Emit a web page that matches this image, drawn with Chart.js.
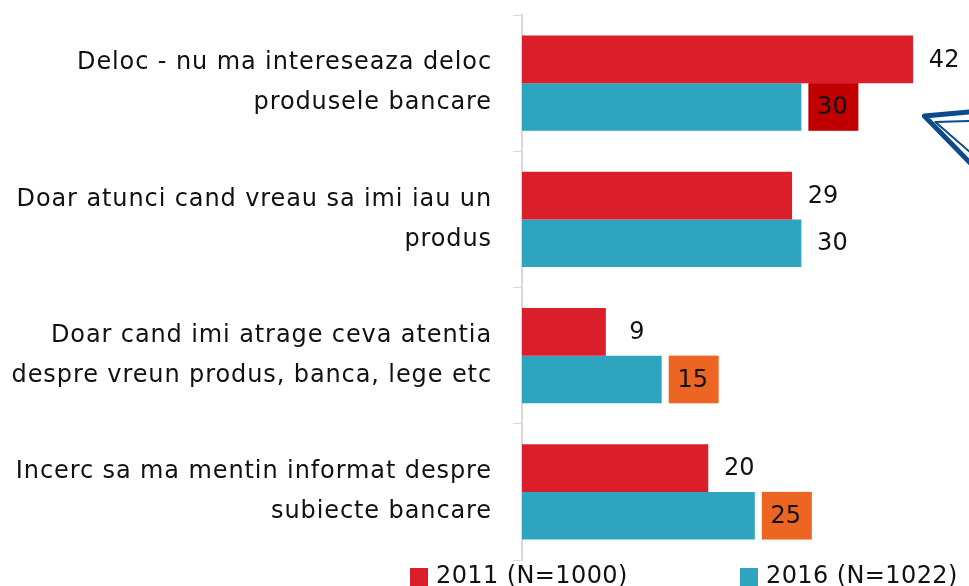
<!DOCTYPE html>
<html>
<head>
<meta charset="utf-8">
<script src="https://cdn.jsdelivr.net/npm/chart.js@4.4.1/dist/chart.umd.min.js"></script>
<style>
  html, body { margin: 0; padding: 0; background: #fff; }
  #wrap { width: 969px; height: 586px; }
</style>
</head>
<body>
<div id="wrap"><canvas id="grafica"></canvas></div>
<script>
const categories = [
  ['Deloc - nu ma intereseaza deloc', 'produsele bancare'],
  ['Doar atunci cand vreau sa imi iau un', 'produs'],
  ['Doar cand imi atrage ceva atentia', 'despre vreun produs, banca, lege etc'],
  ['Incerc sa ma mentin informat despre', 'subiecte bancare']
];
const values2011 = [42, 29, 9, 20];
const values2016 = [30, 30, 15, 25];
const seriesNames = ['2011 (N=1000)', '2016 (N=1022)'];
// highlight boxes behind some 2016 value labels (null = plain label)
const boxes2016 = ['#c00000', null, '#ec6523', '#ec6523'];

const FONT = 'DejaVu Sans';
const red = '#db1f2a';
const teal = '#2ea4bf';

const spacing = {
  id: 'spacing',
  beforeDraw(chart) { chart.ctx.letterSpacing = '0.9px'; }
};

const valueLabels = {
  id: 'valueLabels',
  afterDatasetsDraw(chart) {
    const ctx = chart.ctx;
    ctx.save();
    ctx.font = '24px "' + FONT + '"';
    ctx.letterSpacing = '0px';
    ctx.textAlign = 'center';
    ctx.textBaseline = 'middle';
    chart.data.datasets.forEach((ds, di) => {
      chart.getDatasetMeta(di).data.forEach((bar, i) => {
        const cx = bar.x + 31;
        const box = di === 1 ? boxes2016[i] : null;
        if (box) {
          ctx.fillStyle = box;
          ctx.fillRect(bar.x + 7, bar.y - bar.height / 2, 50, bar.height);
        }
        ctx.fillStyle = '#111';
        ctx.fillText(String(ds.data[i]), cx, bar.y + 1);
      });
    });
    // callout arrow pointing at the first highlighted box
    const b = chart.getDatasetMeta(1).data[0];
    const tx = b.x + 7 + 50 + 66, ty = b.y + 9;
    ctx.strokeStyle = '#0b4a8b';
    ctx.lineJoin = 'round';
    ctx.lineWidth = 5;
    ctx.beginPath();
    ctx.moveTo(tx + 80, ty - 7);
    ctx.lineTo(tx, ty);
    ctx.lineTo(tx + 80, ty + 82);
    ctx.stroke();
    ctx.lineWidth = 2;
    ctx.beginPath();
    ctx.moveTo(tx + 80, ty + 4);
    ctx.lineTo(tx + 11, ty + 6);
    ctx.lineTo(tx + 80, ty + 66);
    ctx.stroke();
    ctx.restore();
  }
};

const bottomLegend = {
  id: 'bottomLegend',
  afterDraw(chart) {
    const ctx = chart.ctx;
    const xs = [410, 740];
    ctx.save();
    ctx.font = '24px "' + FONT + '"';
    ctx.letterSpacing = '0.4px';
    ctx.textAlign = 'left';
    ctx.textBaseline = 'middle';
    chart.data.datasets.forEach((ds, di) => {
      ctx.fillStyle = ds.backgroundColor;
      ctx.fillRect(xs[di], 568, 18, 18);
      ctx.fillStyle = '#111';
      ctx.fillText(ds.label, xs[di] + 26, 577);
    });
    ctx.restore();
  }
};

new Chart(document.getElementById('grafica'), {
  type: 'bar',
  data: {
    labels: categories,
    datasets: [
      { label: seriesNames[0], data: values2011, backgroundColor: red },
      { label: seriesNames[1], data: values2016, backgroundColor: teal }
    ]
  },
  options: {
    indexAxis: 'y',
    responsive: true,
    maintainAspectRatio: false,
    animation: false,
    categoryPercentage: 0.7,
    barPercentage: 1,
    layout: { padding: { top: 15, bottom: 26, left: 0, right: 0 } },
    plugins: { legend: { display: false }, tooltip: { enabled: false } },
    scales: {
      x: { display: false, min: 0, max: 48 },
      y: {
        offset: true,
        afterFit(scale) {
          scale.width = 522;
          scale.paddingTop = 0;
          scale.paddingBottom = 0;
        },
        grid: { drawOnChartArea: false, offset: true, tickLength: 9, color: '#d9d9d9' },
        border: { color: '#d9d9d9', width: 2 },
        ticks: {
          color: '#111',
          padding: 21,
          font: { family: FONT, size: 24, lineHeight: 1.667 }
        }
      }
    }
  },
  plugins: [spacing, valueLabels, bottomLegend]
});
</script>
</body>
</html>
